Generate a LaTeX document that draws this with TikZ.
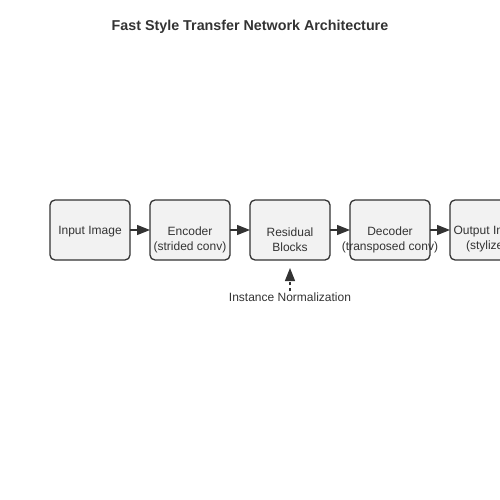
\documentclass[tikz,border=0pt]{standalone}
\usepackage{fontspec}
\setmainfont{Liberation Sans}
\usetikzlibrary{arrows.meta,positioning}
\definecolor{boxfill}{HTML}{F2F2F2}
\definecolor{inkgray}{HTML}{333333}
\tikzstyle{arrow} = [line width=1.3pt,-{Triangle[length=13pt,width=10pt]},draw=inkgray]
\begin{document}
\begin{tikzpicture}[
        x=1pt,y=-1pt,
        text=inkgray,
        font=\fontsize{12}{15}\selectfont,
        block/.style={rectangle,rounded corners=5pt,draw=inkgray,line width=1.3pt,fill=boxfill,minimum width=80pt,minimum height=60pt,inner sep=0pt,outer sep=0pt},
        lbl/.style={align=center,inner sep=0pt}
        ]
        \useasboundingbox (0,0) rectangle (500,500);
        \node[font=\bfseries\fontsize{14.3}{17}\selectfont] (title) at (250,26.5) {Fast Style Transfer Network Architecture};
        \node[block](inp) at (90,230) {};
        \node[block, right=20pt of inp](enc) {};
        \node[block, right=20pt of enc](res) {};
        \node[block, right=20pt of res](dec) {};
        \node[block, right=20pt of dec](out) {};
        \node[lbl] at ([yshift=-1.5pt]inp.center) {Input Image};
        \node[lbl] at ([yshift=-9.5pt]enc.center) {Encoder\\(strided conv)};
        \node[lbl] at ([yshift=-9.5pt]res.center) {Residual\\Blocks};
        \node[lbl] at ([yshift=-9.5pt]dec.center) {Decoder\\(transposed conv)};
        \node[lbl] at ([yshift=-9.5pt]out.center) {Output Image\\(stylized)};
        \node[lbl] (norm) at (290,297) {Instance Normalization};
        \draw[arrow] (inp) -- (enc);
        \draw[arrow] (enc) -- (res);
        \draw[arrow] (res) -- (dec);
        \draw[arrow] (dec) -- (out);
        \draw[arrow, dashed, shorten >=8pt, shorten <=1pt] (norm.north) -- (res.south);
    \end{tikzpicture}
\end{document}
